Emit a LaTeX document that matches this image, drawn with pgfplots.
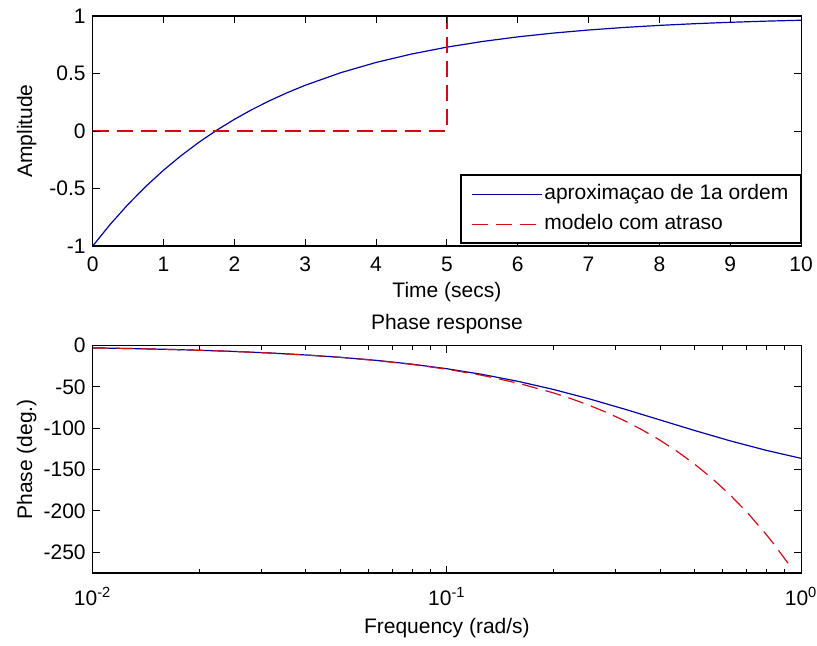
\documentclass[border=0pt]{standalone}
\usepackage{fontspec}
\setmainfont{Liberation Sans}
\usepackage{pgfplots}
\pgfplotsset{compat=1.18}

\definecolor{mblue}{rgb}{0,0,0.66}
\definecolor{mred}{rgb}{0.82,0.05,0.08}

% MATLAB-like look: thin box, inward ticks on all sides, Arial-width text
\pgfplotsset{
  mlab/.style={
    scale only axis,
    width=354.2pt,
    font=\fontsize{10.5}{12.6}\selectfont,
    /pgf/number format/assume math mode=true,
    tick align=inside,
    major tick length=3.5pt,
    minor tick length=2pt,
    axis line style={black, line width=0.6pt},
    every tick/.style={black, line width=0.5pt},
    axis on top,
    ylabel style={at={(axis description cs:-0.093,0.5)}, anchor=center},
  },
  mline/.style={line width=0.6pt},
}

\begin{document}
\begin{tikzpicture}
\path[use as bounding box] (-46.35pt,8pt) rectangle (362.15pt,-314.5pt);

% step response
\begin{axis}[
  mlab,
  at={(0,0)}, anchor=north west,
  height=115pt,
  xmin=0, xmax=10, ymin=-1, ymax=1,
  xtick={0,1,...,10},
  ytick={-1,-0.5,0,0.5,1},
  xticklabel style={yshift=-2pt},
  xlabel={Time (secs)},
  xlabel style={at={(axis description cs:0.5,-0.2)}, anchor=center},
  ylabel={Amplitude},
  legend cell align=left,
  legend style={at={(1,0.0087)}, anchor=south east, draw=black,
                line width=0.8pt, inner xsep=5pt, inner ysep=3.3pt,
                row sep=2.5pt,
                nodes={inner sep=1pt, text height=8pt, text depth=2.5pt}},
  legend image code/.code={\draw[#1] (0pt,0pt) -- (35pt,0pt);},
]
\addplot[mline, mblue] coordinates {
  (0,-1) (0.25,-0.80967) (0.5,-0.63746) (0.75,-0.48164) (1,-0.34064)
  (1.25,-0.21306) (1.5,-0.09762) (1.75,0.00683) (2,0.10134) (2.25,0.18686)
  (2.5,0.26424) (2.75,0.33426) (3,0.39761) (3.5,0.50681) (4,0.59621)
  (4.5,0.66940) (5,0.72933) (5.5,0.77839) (6,0.81856) (6.5,0.85145)
  (7,0.87838) (7.5,0.90043) (8,0.91848) (8.5,0.93325) (9,0.94535)
  (9.5,0.95526) (10,0.96337)
};
\addlegendentry{aproximaçao de 1a ordem}
\addplot[mline, mred, dash pattern=on 8pt off 4pt] coordinates {
  (0,0) (5,0) (5,1) (10,1)
};
\addlegendentry{modelo com atraso}
\end{axis}

% phase response
\begin{axis}[
  mlab,
  at={(0,-164.75pt)}, anchor=north west,
  height=113.75pt,
  xmode=log,
  xmin=0.01, xmax=1, ymin=-275, ymax=0,
  xtick={0.01,0.1,1},
  xticklabels={10\textsuperscript{-2},10\textsuperscript{-1},10\textsuperscript{0}},
  xticklabel style={yshift=-3.5pt},
  ytick={-250,-200,-150,-100,-50,0},
  xlabel={Frequency (rad/s)},
  xlabel style={at={(axis description cs:0.5,-0.242)}, anchor=center},
  ylabel={Phase (deg.)},
  title={Phase response},
  title style={at={(axis description cs:0.5,1.042)}, anchor=center},
]
\addplot[mline, mblue] coordinates {
  (0.01,-2.864) (0.012589,-3.605) (0.015849,-4.538) (0.019953,-5.711)
  (0.025119,-7.187) (0.031623,-9.041) (0.039811,-11.368) (0.050119,-14.284)
  (0.063096,-17.928) (0.079433,-22.464) (0.1,-28.072) (0.12589,-34.940)
  (0.15849,-43.230) (0.19953,-53.022) (0.25119,-64.256) (0.31623,-76.658)
  (0.39811,-89.728) (0.50119,-102.814) (0.63096,-115.256) (0.79433,-126.544)
  (1,-136.397)
};
\addplot[mline, mred, dash pattern=on 8pt off 4pt] coordinates {
  (0.01,-2.865) (0.012589,-3.607) (0.015849,-4.540) (0.019953,-5.716)
  (0.025119,-7.196) (0.031623,-9.059) (0.039811,-11.405) (0.050119,-14.358)
  (0.063096,-18.076) (0.079433,-22.756) (0.1,-28.648) (0.12589,-36.065)
  (0.15849,-45.404) (0.19953,-57.161) (0.22387,-64.135) (0.25119,-71.961)
  (0.28184,-80.741) (0.31623,-90.594) (0.35481,-101.646) (0.39811,-114.051)
  (0.44668,-127.965) (0.50119,-143.580) (0.56234,-161.098) (0.63096,-180.757)
  (0.70795,-202.814) (0.79433,-227.559) (0.8414,-241.04) (0.92,-263.56)
};
\end{axis}
\end{tikzpicture}
\end{document}
